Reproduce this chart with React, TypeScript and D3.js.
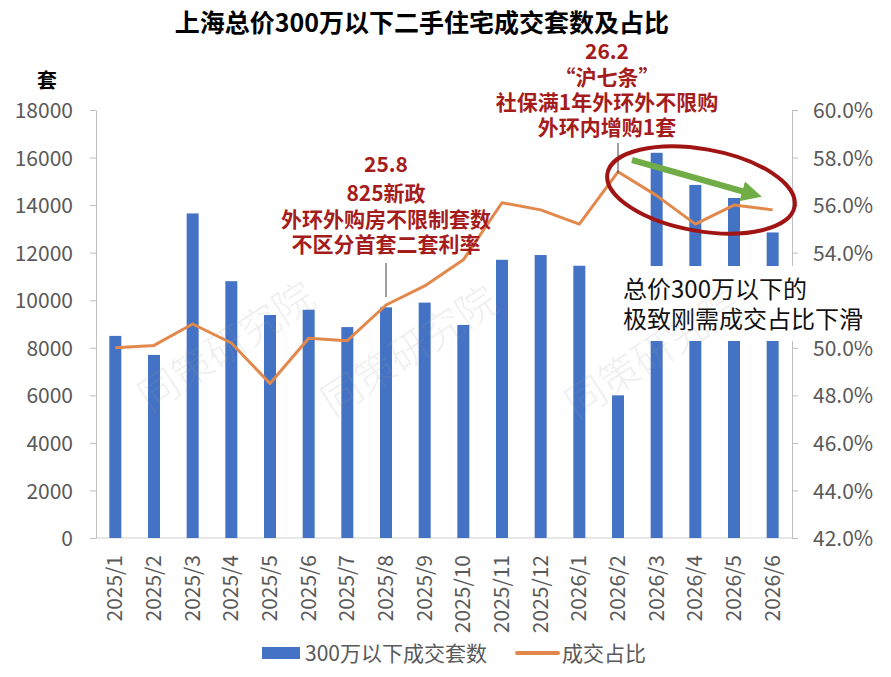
import { useEffect, useRef } from 'react';
import * as d3 from 'd3';

// months on the x axis
const months = [
  '2025/1', '2025/2', '2025/3', '2025/4', '2025/5', '2025/6', '2025/7', '2025/8', '2025/9',
  '2025/10', '2025/11', '2025/12', '2026/1', '2026/2', '2026/3', '2026/4', '2026/5', '2026/6'
];
// 300万以下成交套数 (left axis, 套)
const deals = [8500, 7700, 13650, 10800, 9380, 9600, 8870, 9700, 9900, 8960, 11700, 11900, 11450, 6000, 16200, 14850, 14300, 12850];
// 成交占比 (right axis, %)
const share = [50.0, 50.1, 51.0, 50.2, 48.5, 50.4, 50.3, 51.8, 52.6, 53.7, 56.1, 55.8, 55.2, 57.4, 56.4, 55.2, 56.0, 55.8];

const leftTicks = [0, 2000, 4000, 6000, 8000, 10000, 12000, 14000, 16000, 18000];
// 52.0% sits under the white note box in the original, so it is not labelled
const rightTicks = [42, 44, 46, 48, 50, 54, 56, 58, 60];

const note1 = ['25.8', '825新政', '外环外购房不限制套数', '不区分首套二套利率'];
const note2 = ['26.2', '“沪七条”', '社保满1年外环外不限购', '外环内增购1套'];
const note3 = ['总价300万以下的', '极致刚需成交占比下滑'];

const W = 891;
const H = 677;
const FONT = '"Noto Sans CJK SC", "Noto Sans", sans-serif';
const RED = '#A51C1C';

export default function App() {
  const svgRef = useRef<SVGSVGElement>(null);

  useEffect(() => {
    if (!svgRef.current) return;
    const svg = d3.select(svgRef.current);
    svg.selectAll('*').remove();
    svg.style('font-family', FONT);

    const left = 96, right = 792, top = 110, bottom = 538;

    const x = d3.scaleBand<string>().domain(months).range([left, right]).paddingInner(0.69).paddingOuter(0.345);
    const yL = d3.scaleLinear().domain([0, 18000]).range([bottom, top]);
    const yR = d3.scaleLinear().domain([42, 60]).range([bottom, top]);
    const cx = (m: string) => (x(m) ?? 0) + x.bandwidth() / 2;

    svg.append('rect').attr('width', W).attr('height', H).attr('fill', '#fff');

    // title
    svg.append('text')
      .attr('x', 422).attr('y', 32)
      .attr('text-anchor', 'middle')
      .attr('font-size', 25).attr('font-weight', 700)
      .text('上海总价300万以下二手住宅成交套数及占比');

    svg.append('text')
      .attr('x', 47).attr('y', 88)
      .attr('text-anchor', 'middle')
      .attr('font-size', 20).attr('font-weight', 700)
      .text('套');

    // axes
    const axL = svg.append('g').attr('transform', `translate(${left},0)`)
      .call(d3.axisLeft(yL).tickValues(leftTicks).tickSize(6).tickSizeOuter(0).tickPadding(17).tickFormat(d3.format('d')));
    const axR = svg.append('g').attr('transform', `translate(${right},0)`)
      .call(d3.axisRight(yR).tickValues(rightTicks).tickSize(6).tickSizeOuter(0).tickPadding(15).tickFormat(d => `${(+d).toFixed(1)}%`));
    [axL, axR].forEach(ax => {
      ax.selectAll('path,line').attr('stroke', '#bfbfbf');
      ax.selectAll('text').attr('font-size', 21).attr('fill', '#595959').attr('font-family', FONT).attr('dy', '0.36em');
    });
    svg.append('line')
      .attr('x1', left).attr('x2', right).attr('y1', bottom).attr('y2', bottom)
      .attr('stroke', '#d0d0d0');

    // bars
    svg.append('g').selectAll('rect')
      .data(deals)
      .enter()
      .append('rect')
      .attr('x', (_, i) => x(months[i]) ?? 0)
      .attr('width', x.bandwidth())
      .attr('y', d => yL(d))
      .attr('height', d => bottom - yL(d))
      .attr('fill', '#4472C4');

    // share line
    const line = d3.line<number>()
      .x((_, i) => cx(months[i]))
      .y(d => yR(d));
    svg.append('path')
      .datum(share)
      .attr('d', line)
      .attr('fill', 'none')
      .attr('stroke', '#E3884B')
      .attr('stroke-width', 3)
      .attr('stroke-linejoin', 'round');

    // x labels
    svg.append('g').selectAll('text')
      .data(months)
      .enter()
      .append('text')
      .attr('transform', d => `translate(${cx(d) + 7},555) rotate(-90)`)
      .attr('text-anchor', 'end')
      .attr('font-size', 21)
      .attr('fill', '#595959')
      .text(d => d);

    // annotations
    const drawNote = (lines: string[], xc: number, ys: number[], lx: number, ly: [number, number]) => {
      svg.append('line')
        .attr('x1', lx).attr('x2', lx).attr('y1', ly[0]).attr('y2', ly[1])
        .attr('stroke', '#404040').attr('stroke-width', 1);
      lines.forEach((t, i) => {
        svg.append('text')
          .attr('x', xc).attr('y', ys[i])
          .attr('text-anchor', 'middle')
          .attr('font-size', 21).attr('font-weight', 700)
          .attr('fill', RED)
          .text(t);
      });
    };
    drawNote(note1, 386, [172, 201, 227, 252], cx('2025/8'), [263, 297]);
    drawNote(note2, 607, [59, 85, 110, 135], cx('2026/2'), [143, 173]);

    // ellipse + arrow
    svg.append('ellipse')
      .attr('cx', 701).attr('cy', 190).attr('rx', 95).attr('ry', 41)
      .attr('transform', 'rotate(10,701,190)')
      .attr('fill', 'none').attr('stroke', '#A01414').attr('stroke-width', 4);
    svg.append('defs').append('marker')
      .attr('id', 'arr').attr('viewBox', '0 0 10 10')
      .attr('refX', 5).attr('refY', 5)
      .attr('markerWidth', 3.4).attr('markerHeight', 3.4)
      .attr('orient', 'auto')
      .append('path').attr('d', 'M0,0L10,5L0,10Z').attr('fill', '#70AD47');
    svg.append('line')
      .attr('x1', 632).attr('y1', 160).attr('x2', 752).attr('y2', 194)
      .attr('stroke', '#70AD47').attr('stroke-width', 6)
      .attr('marker-end', 'url(#arr)');

    // white note box
    svg.append('rect')
      .attr('x', 618).attr('y', 266).attr('width', 270).attr('height', 75)
      .attr('fill', '#fff');
    note3.forEach((t, i) => {
      svg.append('text')
        .attr('x', 623).attr('y', 298 + i * 30)
        .attr('font-size', 24)
        .attr('fill', '#111')
        .text(t);
    });

    // legend
    svg.append('rect').attr('x', 262).attr('y', 647).attr('width', 38).attr('height', 12).attr('fill', '#4472C4');
    svg.append('text').attr('x', 305).attr('y', 661).attr('font-size', 21).attr('fill', '#595959').text('300万以下成交套数');
    svg.append('line').attr('x1', 517).attr('x2', 558).attr('y1', 653).attr('y2', 653)
      .attr('stroke', '#E3884B').attr('stroke-width', 4).attr('stroke-linecap', 'round');
    svg.append('text').attr('x', 562).attr('y', 661).attr('font-size', 21).attr('fill', '#595959').text('成交占比');

    // watermark
    [[150, 413], [333, 417], [577, 420]].forEach(([wx, wy]) => {
      svg.append('text')
        .attr('transform', `translate(${wx},${wy}) rotate(-33)`)
        .attr('font-size', 40)
        .attr('font-weight', 300)
        .attr('fill', '#9a9a9a')
        .attr('fill-opacity', 0.16)
        .text('同策研究院');
    });
  }, []);

  return (
    <div style={{ position: 'absolute', left: 0, top: 0, width: W, height: H }}>
      <svg ref={svgRef} width={W} height={H}></svg>
    </div>
  );
}
